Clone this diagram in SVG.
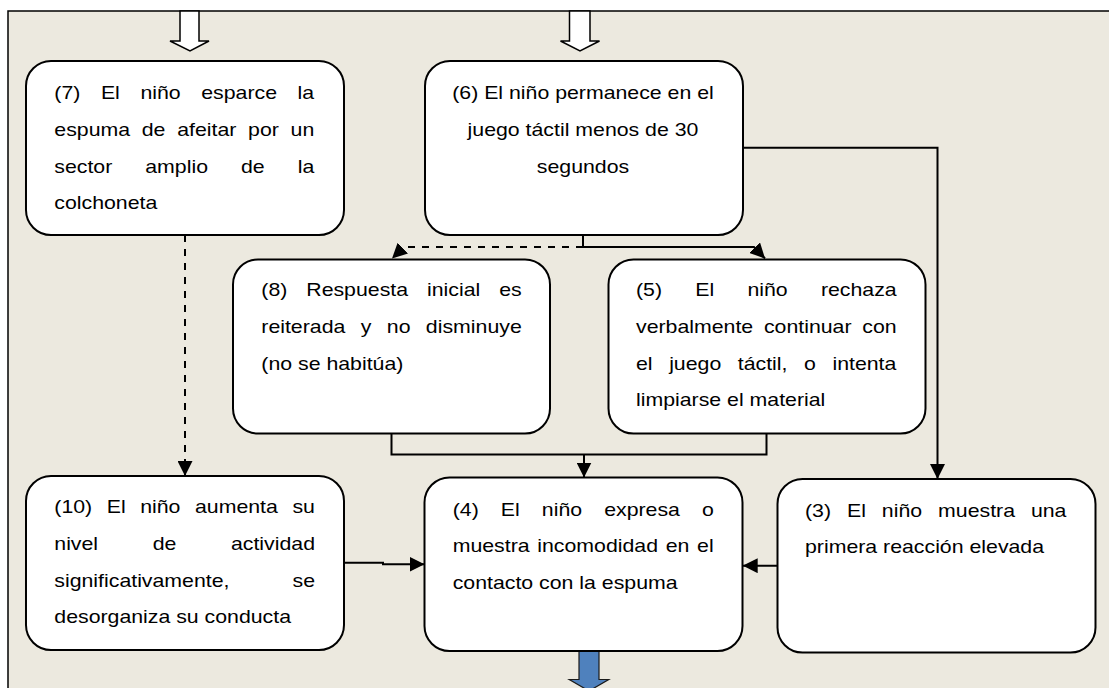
<svg xmlns="http://www.w3.org/2000/svg" width="1109" height="688" viewBox="0 0 1109 688">
<defs>
<style>
.box{fill:#fff;stroke:#000;stroke-width:2}
.t{font-family:"Liberation Sans",Arial,sans-serif;font-size:17.5px;fill:#000}
.c{fill:none;stroke:#000;stroke-width:2}
.d{fill:none;stroke:#000;stroke-width:2;stroke-dasharray:7 7}
.hollow{fill:#fff;stroke:#000;stroke-width:1.5}
</style>
<marker id="ah" viewBox="0 0 10 10" refX="10" refY="5" markerUnits="userSpaceOnUse" markerWidth="15" markerHeight="15" orient="auto">
<path d="M0,0 L10,5 L0,10 z" fill="#000"/>
</marker>
</defs>
<rect x="0" y="0" width="1109" height="688" fill="#fff"/>
<rect x="8" y="11" width="1120" height="700" fill="#ECE9DF" stroke="#000" stroke-width="1.5"/>

<g id="top-arrows">
<polygon class="hollow" points="180,11 199,11 199,41 209,41 190,51 170,41 180,41"/>
<polygon class="hollow" points="569.5,11 590,11 590,41 599.5,41 580,51 560.5,41 569.5,41"/>
</g>

<g id="out-arrow">
<polygon points="579,651 599,651 599,679.5 608.7,679.5 589,691 569.3,679.5 579,679.5" fill="#4F81BD" stroke="#1a1a1a" stroke-width="1.2"/>
</g>

<g id="connectors">
<path class="d" d="M185,235 V476" marker-end="url(#ah)"/>
<path class="d" d="M583,247 H404 L392,258.5" marker-end="url(#ah)"/>
<path class="c" d="M583,235 V247 H754 L765,258.5" marker-end="url(#ah)"/>
<path class="c" d="M743,147.7 H937.5 V479" marker-end="url(#ah)"/>
<path class="c" d="M391.5,433.3 V454.5 H766.5 V433.3"/>
<path class="c" d="M584,454.5 V477.5" marker-end="url(#ah)"/>
<path class="c" d="M344,562.7 H383 V564.3 H424.5" marker-end="url(#ah)"/>
<path class="c" d="M777.5,565.7 H742.7" marker-end="url(#ah)"/>
</g>

<g id="n7">
<rect class="box" x="26" y="61" width="318" height="174" rx="25"/>
<g transform="translate(54.3 0) scale(1.217 1)">
<text class="t" y="99.3" style="word-spacing:12.05px">(7) El niño esparce la</text>
<text class="t" y="136" style="word-spacing:4.77px">espuma de afeitar por un</text>
<text class="t" y="172.7" style="word-spacing:22.25px">sector amplio de la</text>
<text class="t" y="209.3">colchoneta</text>
</g>
</g>

<g id="n6">
<rect class="box" x="425" y="61" width="318" height="174" rx="25"/>
<g transform="translate(583 0) scale(1.217 1)">
<text class="t" y="99.3" text-anchor="middle">(6) El niño permanece en el</text>
<text class="t" y="136.3" text-anchor="middle">juego táctil menos de 30</text>
<text class="t" y="173" text-anchor="middle">segundos</text>
</g>
</g>

<g id="n8">
<rect class="box" x="233" y="259.5" width="317" height="174" rx="25"/>
<g transform="translate(261.3 0) scale(1.217 1)">
<text class="t" y="296.3" style="word-spacing:10.7px">(8) Respuesta inicial es</text>
<text class="t" y="333" style="word-spacing:7.8px">reiterada y  no disminuye</text>
<text class="t" y="369.7">(no se habitúa)</text>
</g>
</g>

<g id="n5">
<rect class="box" x="608.5" y="259.5" width="317" height="174" rx="25"/>
<g transform="translate(636 0) scale(1.217 1)">
<text class="t" y="296.3" style="word-spacing:22.45px">(5) El niño rechaza</text>
<text class="t" y="333" style="word-spacing:4px">verbalmente continuar con</text>
<text class="t" y="369.7" style="word-spacing:8.75px">el juego táctil, o intenta</text>
<text class="t" y="406.3">limpiarse el material</text>
</g>
</g>

<g id="n10">
<rect class="box" x="26" y="476" width="318" height="174" rx="25"/>
<g transform="translate(54.3 0) scale(1.217 1)">
<text class="t" y="513.3" style="word-spacing:7.1px">(10) El niño aumenta su</text>
<text class="t" y="550" style="word-spacing:40px">nivel de actividad</text>
<text class="t" y="586.7" style="word-spacing:47px">significativamente, se</text>
<text class="t" y="623.3">desorganiza su conducta</text>
</g>
</g>

<g id="n4">
<rect class="box" x="424.5" y="477.5" width="318" height="173.5" rx="25"/>
<g transform="translate(452.7 0) scale(1.217 1)">
<text class="t" y="515.7" style="word-spacing:13.3px">(4) El niño expresa o</text>
<text class="t" y="552.3" style="word-spacing:1.45px">muestra incomodidad en el</text>
<text class="t" y="589">contacto con la espuma</text>
</g>
</g>

<g id="n3">
<rect class="box" x="777.5" y="479" width="318" height="173.5" rx="25"/>
<g transform="translate(805 0) scale(1.217 1)">
<text class="t" y="516.7" style="word-spacing:8.25px">(3) El niño muestra una</text>
<text class="t" y="553.3">primera reacción elevada</text>
</g>
</g>
</svg>
